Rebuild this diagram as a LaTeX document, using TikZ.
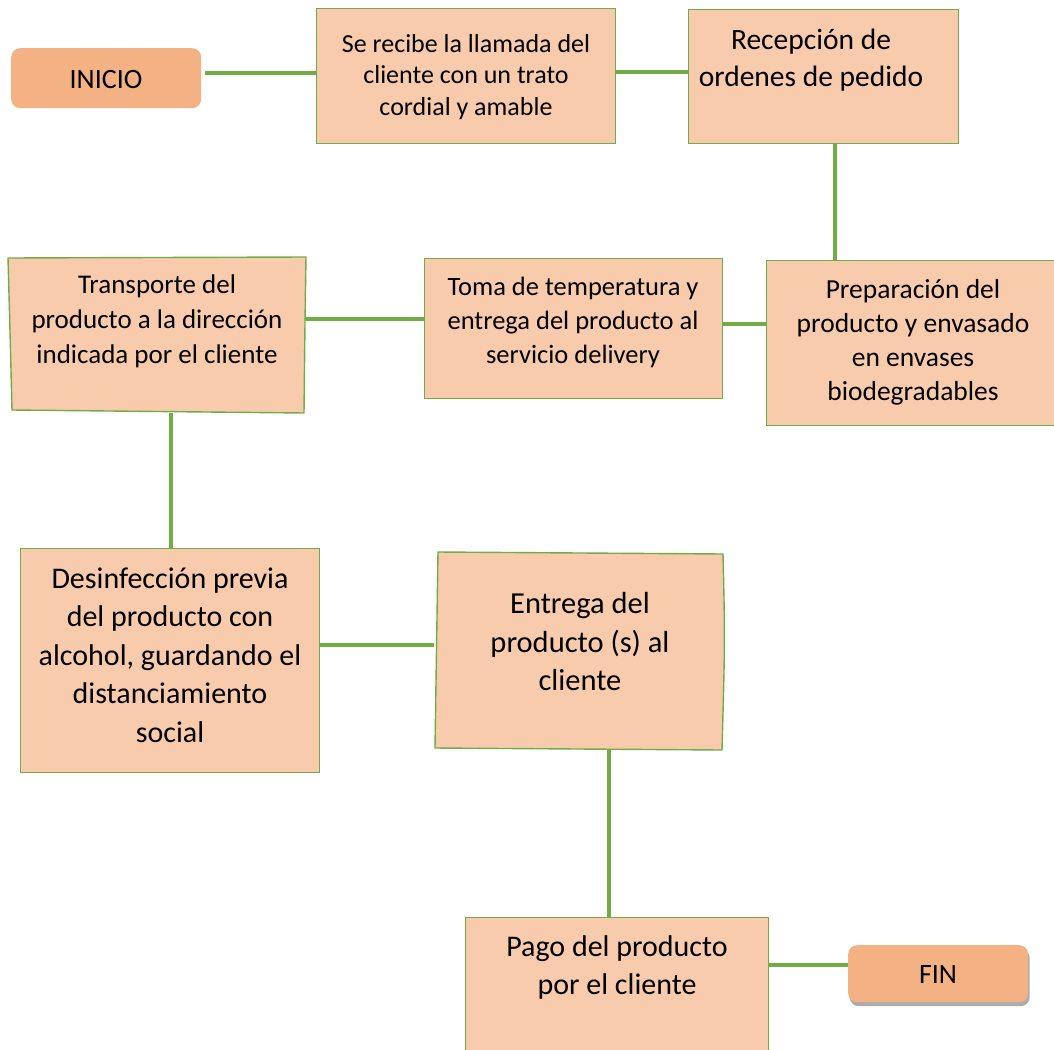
\documentclass[tikz,border=0pt]{standalone}
\usepackage{fontspec}
\setmainfont{Carlito}
\usetikzlibrary{shadows,calc}
\definecolor{boxfill}{RGB}{248,203,173}
\definecolor{termfill}{RGB}{244,177,131}
\definecolor{linkgreen}{RGB}{112,173,71}
\tikzset{
  box/.style={rectangle, fill=boxfill, draw=linkgreen, line width=1.4pt, anchor=north west, inner sep=0pt},
  anchorbox/.style={rectangle, draw=none, fill=none, anchor=north west, inner sep=0pt},
  wobbly/.style={fill=boxfill, draw=linkgreen, line width=1.4pt},
  term/.style={rectangle, rounded corners=9pt, fill=termfill, draw=none, anchor=north west, inner sep=0pt},
  txt/.style={align=center, inner sep=0pt, text=black},
  link/.style={draw=linkgreen, line width=3.6pt},
}
\begin{document}
\begin{tikzpicture}[x=1pt,y=-1pt]
\useasboundingbox (0,0) rectangle (1054,1049);

% terminals
\node[term, minimum width=190pt, minimum height=60pt] (start) at (11,48) {};
\node[txt, font=\fontsize{28}{32}\selectfont] (startt) at (106,80) {INICIO};
\node[term, drop shadow={shadow xshift=1.5pt, shadow yshift=-4pt, opacity=0.5, fill=black!65}, minimum width=180pt, minimum height=57pt] (fin) at (848,945) {};
\node[txt, font=\fontsize{28}{32}\selectfont] (fint) at (938,975) {FIN};

% process boxes
\node[box, minimum width=299pt, minimum height=135pt] (b1) at (316,8) {};
\node[txt, font=\fontsize{26}{31.5}\selectfont] (b1t) at (466,77) {Se recibe la llamada del\\cliente con un trato\\cordial y amable};

\node[box, minimum width=270pt, minimum height=134pt] (b2) at (688,9) {};
\node[txt, font=\fontsize{29.5}{37}\selectfont] (b2t) at (811,60) {Recepción de\\ordenes de pedido};

\node[box, minimum width=289pt, minimum height=165pt] (b3) at (766,260) {};
\node[txt, font=\fontsize{27.5}{34}\selectfont] (b3t) at (913,342) {Preparación del\\producto y envasado\\en envases\\biodegradables};

\node[box, minimum width=298pt, minimum height=140pt] (b4) at (424,258) {};
\node[txt, font=\fontsize{26.5}{34}\selectfont] (b4t) at (573,322) {Toma de temperatura y\\entrega del producto al\\servicio delivery};

% hand-drawn looking box: transport
\draw[wobbly] (8,258) -- (306,257) .. controls (305,320) .. (304,413) -- (12,410) .. controls (10,330) .. (8,258) -- cycle;
\node[anchorbox, minimum width=298pt, minimum height=155pt] (b5) at (8,258) {};
\node[txt, font=\fontsize{27}{35}\selectfont] (b5t) at (157,321) {Transporte del\\producto a la dirección\\indicada por el cliente};

\node[box, minimum width=299pt, minimum height=224pt] (b6) at (20,548) {};
\node[txt, font=\fontsize{30}{38.5}\selectfont] (b6t) at (170,655) {Desinfección previa\\del producto con\\alcohol, guardando el\\distanciamiento\\social};

% hand-drawn looking box: delivery
\draw[wobbly] (438,552) -- (723,554) .. controls (725,640) .. (722,750) -- (435,748) .. controls (436,650) .. (438,552) -- cycle;
\node[anchorbox, minimum width=287pt, minimum height=198pt] (b7) at (436,552) {};
\node[txt, font=\fontsize{30.5}{38.5}\selectfont] (b7t) at (580,642) {Entrega del\\producto (s) al\\cliente};

\node[box, minimum width=303pt, minimum height=140pt] (b8) at (465,917) {};
\node[txt, font=\fontsize{30}{38}\selectfont] (b8t) at (617,967) {Pago del producto\\por el cliente};

% connectors
\draw[link] ($(start.east |- {(0,73)}) + (4,0)$) -- (b1.west |- {(0,73)});
\draw[link] (b1.east |- {(0,72)}) -- (b2.west |- {(0,72)});
\draw[link] (b2.south -| {(835,0)}) -- (b3.north -| {(835,0)});
\draw[link] (b3.west |- {(0,324)}) -- (b4.east |- {(0,324)});
\draw[link] (b4.west |- {(0,319)}) -- (b5.east |- {(0,319)});
\draw[link] (b5.south -| {(171,0)}) -- (b6.north -| {(171,0)});
\draw[link] (b6.east |- {(0,645)}) -- ($(b7.west |- {(0,645)}) + (-2,0)$);
\draw[link] (b7.south -| {(609,0)}) -- (b8.north -| {(609,0)});
\draw[link] (b8.east |- {(0,965)}) -- (fin.west |- {(0,965)});
\end{tikzpicture}
\end{document}
